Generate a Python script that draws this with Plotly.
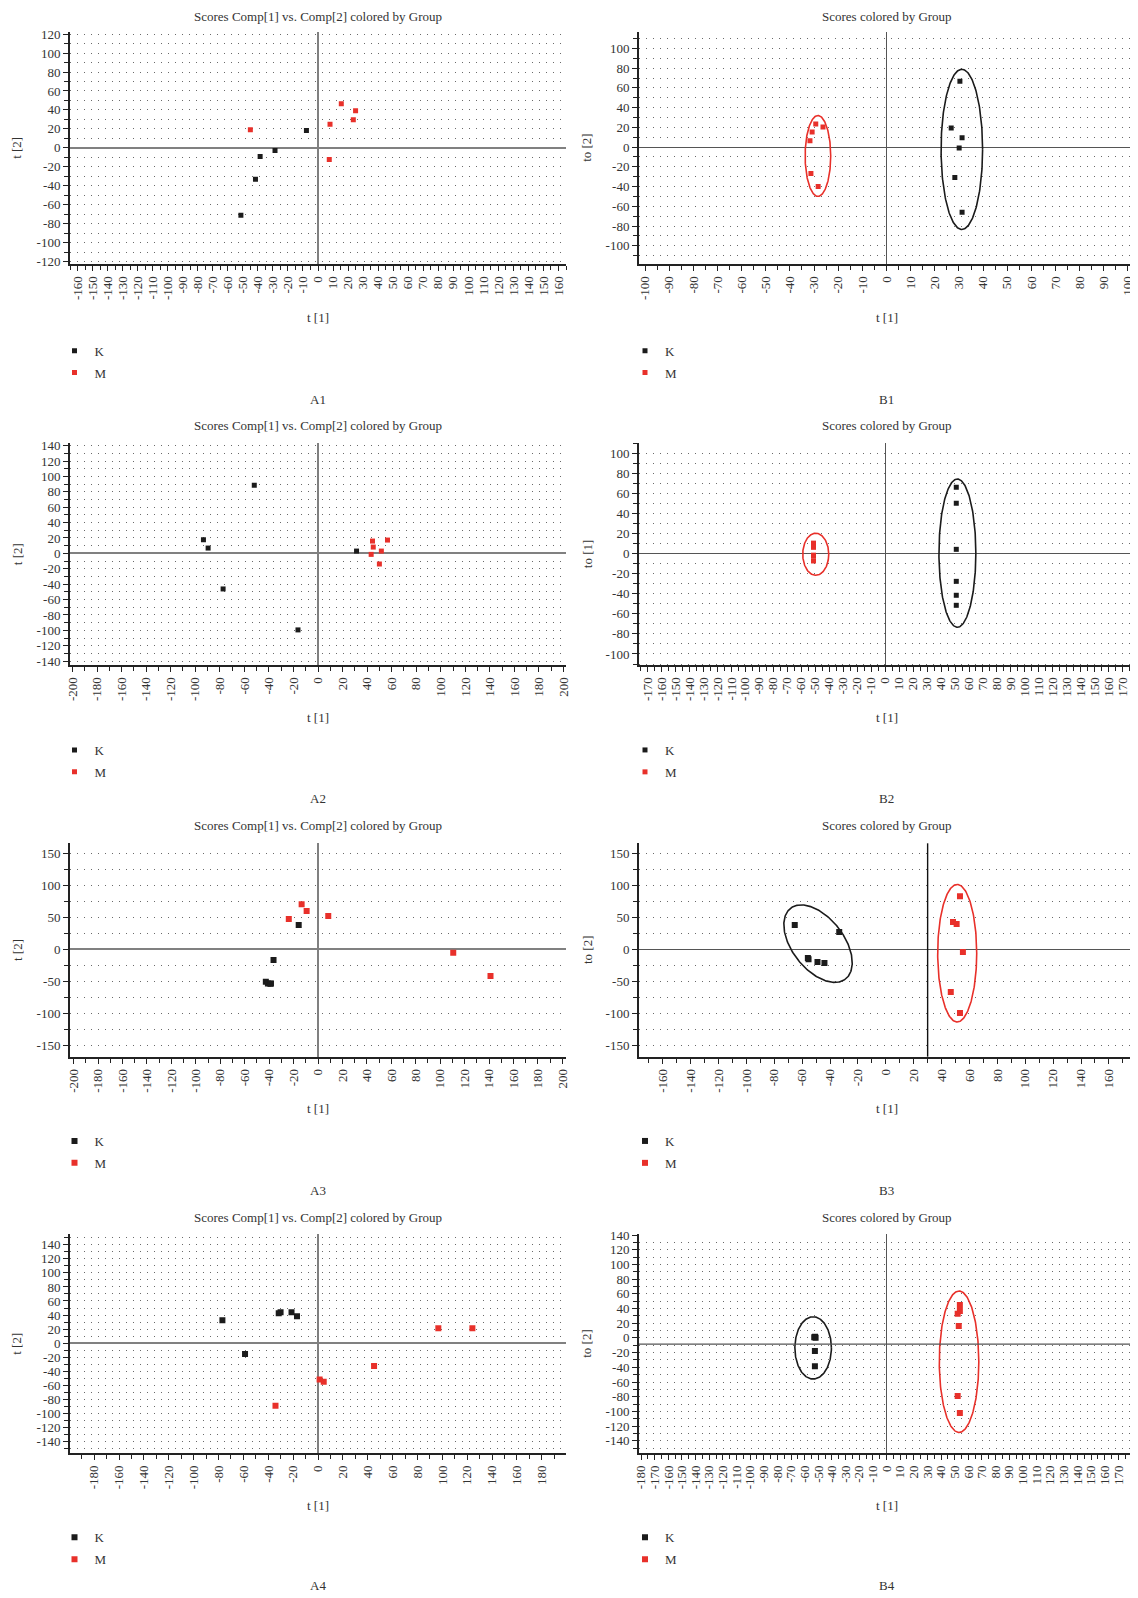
import numpy as np
import plotly.graph_objects as go

PAGE_W, PAGE_H = 1138, 1598
OFF = 8  # browser body margin
FW, FH = PAGE_W - OFF, PAGE_H - OFF

# ---------------- data ----------------
GROUPS = ["K", "M"]
TITLE_A = "Scores Comp[1] vs. Comp[2] colored by Group"
TITLE_B = "Scores colored by Group"
PANEL_LABELS = ["A1", "B1", "A2", "B2", "A3", "B3", "A4", "B4"]
X_TITLES = ["t [1]"] * 8
Y_TITLES = ["t [2]", "to [2]", "t [2]", "to [1]", "t [2]", "to [2]", "t [2]", "to [2]"]

A1_K_X = [-7.7, -28.6, -38.5, -41.6, -51.3]
A1_K_Y = [18.2, -2.8, -9.0, -33.0, -71.0]
A1_M_X = [-45.0, 15.5, 25.0, 23.5, 8.0, 7.5]
A1_M_Y = [19.2, 46.5, 39.0, 29.7, 25.0, -12.2]

B1_K_X = [30.4, 26.8, 31.3, 30.1, 28.3, 31.3]
B1_K_Y = [66.8, 19.5, 9.4, -1.0, -30.9, -66.0]
B1_M_X = [-29.3, -26.3, -30.8, -31.7, -31.3, -28.3]
B1_M_Y = [23.5, 20.5, 15.4, 6.4, -26.8, -40.0]
B1_K_ELL_C = [31.2, -2.3]
B1_K_ELL_AX = [[8.6, 0.0], [0.0, 81.2]]
B1_M_ELL_C = [-28.4, -9.0]
B1_M_ELL_AX = [[5.3, 0.0], [0.0, 41.0]]

A2_K_X = [-51.9, -93.3, -89.5, -77.3, -16.3, 31.4]
A2_K_Y = [88.6, 17.7, 6.9, -46.2, -99.4, 3.0]
A2_M_X = [44.4, 56.6, 45.0, 51.6, 43.3, 50.0]
A2_M_Y = [16.0, 17.3, 8.2, 3.0, -1.3, -13.8]

B2_K_X = [50.9, 50.9, 50.9, 50.9, 50.9, 50.9]
B2_K_Y = [66.1, 50.2, 4.3, -27.6, -41.5, -51.5]
B2_M_X = [-51.2, -51.2, -51.2, -51.2, -51.2, -51.2]
B2_M_Y = [10.5, 9.0, 6.3, -1.5, -2.5, -7.3]
B2_K_ELL_C = [51.7, 0.5]
B2_K_ELL_AX = [[13.2, 0.0], [0.0, 73.9]]
B2_M_ELL_C = [-49.6, -0.6]
B2_M_ELL_AX = [[9.3, 0.0], [0.0, 21.0]]

A3_K_X = [-15.8, -36.4, -42.7, -41.0, -39.0, -38.5]
A3_K_Y = [38.0, -16.7, -50.5, -53.5, -54.0, -53.3]
A3_M_X = [-13.4, -9.3, -23.9, 8.4, 110.7, 141.2]
A3_M_Y = [70.8, 59.9, 47.4, 52.1, -5.2, -41.7]

B3_K_X = [-65.3, -33.4, -55.9, -55.4, -49.0, -44.0]
B3_K_Y = [38.0, 27.1, -13.5, -15.6, -19.8, -21.4]
B3_M_X = [53.2, 48.2, 50.8, 55.3, 46.6, 53.2]
B3_M_Y = [83.3, 42.7, 39.6, -4.2, -66.7, -99.5]
B3_K_ELL_C = [-48.6, 8.9]
B3_K_ELL_AX = [[18.6, -57.0], [-16.0, -20.7]]
B3_M_ELL_C = [51.2, -6.0]
B3_M_ELL_AX = [[14.0, 0.0], [0.0, 107.6]]
B3_VLINE_X = 30.0

A4_K_X = [-76.9, -58.7, -31.6, -30.1, -21.3, -16.9]
A4_K_Y = [32.5, -15.6, 42.4, 43.8, 43.8, 38.2]
A4_M_X = [-34.2, 1.3, 4.6, 45.1, 96.8, 124.2]
A4_M_Y = [-89.1, -51.8, -55.1, -32.5, 21.2, 21.2]

B4_K_X = [-52.4, -52.0, -53.0, -52.5, -52.5]
B4_K_Y = [1.6, 0.3, 1.0, -17.9, -38.4]
B4_M_X = [53.8, 53.8, 52.2, 53.0, 52.2, 53.8]
B4_M_Y = [44.7, 36.5, 32.9, 16.1, -79.2, -102.3]
B4_K_ELL_C = [-53.8, -13.6]
B4_K_ELL_AX = [[13.4, 0.0], [0.0, 42.4]]
B4_M_ELL_C = [53.2, -32.4]
B4_M_ELL_AX = [[14.5, 0.0], [0.0, 96.2]]
B4_HLINE_Y = -8.4

# axis ranges / ticks: [min, max, major step, minor step]
A1_XAX = [-165, 165, 10, 5];   A1_YAX = [-122.5, 122.5, 20, 10]
B1_XAX = [-102.5, 102.5, 10, 5]; B1_YAX = [-118.5, 117, 20, 10]
A2_XAX = [-202, 202, 20, 10];  A2_YAX = [-145, 143, 20, 10]
B2_XAX = [-176, 178, 10, 5];   B2_YAX = [-111, 110, 20, 10]
A3_XAX = [-203, 203, 20, 10];  A3_YAX = [-168, 166, 50, 25]
B3_XAX = [-177, 178, 20, 10];  B3_YAX = [-168, 166, 50, 25]
A4_XAX = [-199.5, 199.5, 20, 10]; A4_YAX = [-157, 155, 20, 10]
B4_XAX = [-181.5, 181.5, 10, 5]; B4_YAX = [-157, 141, 20, 10]

# ---------------- styling / layout (page pixel positions) ----------------
BLACK = "#1b1b1b"
RED = "#e8302a"
TXT = "#333333"
FONT = "Liberation Serif"
GRID = "#6a6a6a"

COL_X = [(70, 566), (639, 1134)]
ROW_Y = [(31.7, 264.0), (443.3, 665.0), (843.3, 1056.7), (1234.3, 1453.3)]
TITLE_Y = [17, 425, 825.7, 1217.7]
XTITLE_Y = [317, 717, 1108.5, 1505]
LABEL_Y = [399, 798.7, 1190, 1585]
LEG_K_Y = [350.7, 750, 1141, 1537.4]
LEG_SYM_X = [73.5, 644]
YTITLE_X = [17, 587]

PANELS = [
    dict(kx=A1_K_X, ky=A1_K_Y, mx=A1_M_X, my=A1_M_Y, xax=A1_XAX, yax=A1_YAX, ell=[], ms=5),
    dict(kx=B1_K_X, ky=B1_K_Y, mx=B1_M_X, my=B1_M_Y, xax=B1_XAX, yax=B1_YAX,
         ell=[(B1_K_ELL_C, B1_K_ELL_AX, BLACK), (B1_M_ELL_C, B1_M_ELL_AX, RED)], ms=5),
    dict(kx=A2_K_X, ky=A2_K_Y, mx=A2_M_X, my=A2_M_Y, xax=A2_XAX, yax=A2_YAX, ell=[], ms=5),
    dict(kx=B2_K_X, ky=B2_K_Y, mx=B2_M_X, my=B2_M_Y, xax=B2_XAX, yax=B2_YAX,
         ell=[(B2_K_ELL_C, B2_K_ELL_AX, BLACK), (B2_M_ELL_C, B2_M_ELL_AX, RED)], ms=5),
    dict(kx=A3_K_X, ky=A3_K_Y, mx=A3_M_X, my=A3_M_Y, xax=A3_XAX, yax=A3_YAX, ell=[], ms=6),
    dict(kx=B3_K_X, ky=B3_K_Y, mx=B3_M_X, my=B3_M_Y, xax=B3_XAX, yax=B3_YAX,
         ell=[(B3_K_ELL_C, B3_K_ELL_AX, BLACK), (B3_M_ELL_C, B3_M_ELL_AX, RED)], ms=6),
    dict(kx=A4_K_X, ky=A4_K_Y, mx=A4_M_X, my=A4_M_Y, xax=A4_XAX, yax=A4_YAX, ell=[], ms=6),
    dict(kx=B4_K_X, ky=B4_K_Y, mx=B4_M_X, my=B4_M_Y, xax=B4_XAX, yax=B4_YAX,
         ell=[(B4_K_ELL_C, B4_K_ELL_AX, BLACK), (B4_M_ELL_C, B4_M_ELL_AX, RED)], ms=6),
]


def ellipse_xy(center, axes, n=240):
    t = np.linspace(0, 2 * np.pi, n)
    (ux, uy), (vx, vy) = axes
    return (center[0] + ux * np.cos(t) + vx * np.sin(t),
            center[1] + uy * np.cos(t) + vy * np.sin(t))


def tick_values(lo, hi, step):
    start = int(np.ceil(lo / step))
    stop = int(np.floor(hi / step))
    vals = [k * step for k in range(start, stop + 1)]
    return vals, [str(int(v)) for v in vals]


def px(x):
    return (x - OFF) / FW


def py(y):
    return 1 - (y - OFF) / FH


fig = go.Figure()
layout = dict(
    template="none",
    width=FW, height=FH, margin=dict(l=0, r=0, t=0, b=0, pad=0, autoexpand=False),
    paper_bgcolor="white", plot_bgcolor="white",
    font=dict(family=FONT, size=13, color=TXT),
    showlegend=True, hovermode="closest",
)
annotations = []
shapes = []

for i, p in enumerate(PANELS):
    n = i + 1
    row, col = i // 2, i % 2
    xs = "" if n == 1 else str(n)
    xref, yref = "x" + xs, "y" + xs
    legname = "legend" + ("" if n == 1 else str(n))
    x0, x1 = COL_X[col]
    y0, y1 = ROW_Y[row]

    for ell_c, ell_ax, color in p["ell"]:
        ex, ey = ellipse_xy(ell_c, ell_ax)
        fig.add_trace(go.Scatter(x=ex, y=ey, mode="lines", xaxis=xref, yaxis=yref,
                                 line=dict(color=color, width=1.6), showlegend=False,
                                 hoverinfo="skip"))
    for g, gx, gy, color in (("K", p["kx"], p["ky"], BLACK), ("M", p["mx"], p["my"], RED)):
        fig.add_trace(go.Scatter(x=gx, y=gy, mode="markers", name=g, xaxis=xref, yaxis=yref,
                                 marker=dict(symbol="square", size=p["ms"], color=color,
                                             line=dict(width=0)),
                                 legend=legname, legendgroup=f"{g}{n}"))

    xmin, xmax, xd, xmd = p["xax"]
    ymin, ymax, yd, ymd = p["yax"]
    xv, xt = tick_values(xmin, xmax, xd)
    yv, yt = tick_values(ymin, ymax, yd)
    is_b = col == 1
    zcol = "#555555" if is_b else "#808080"
    zw = 1.4 if is_b else 1.8
    xzero = not (n == 6)
    yzero = not (n == 8)
    axis_common = dict(showline=True, linecolor="#222222", linewidth=2, mirror=False,
                       ticks="outside", ticklen=5, tickwidth=1.3, tickcolor="#222222",
                       tickmode="array", automargin=False,
                       tickfont=dict(family=FONT, size=13, color=TXT), fixedrange=True)
    layout["xaxis" + xs] = dict(
        axis_common, domain=[px(x0), px(x1)], range=[xmin, xmax],
        tickvals=xv, ticktext=xt,
        anchor=yref, tickangle=-90, showgrid=False, zeroline=xzero,
        zerolinecolor=zcol, zerolinewidth=zw,
        minor=dict(tickmode="linear", dtick=xmd, tick0=0, ticks="outside", ticklen=4,
                   tickcolor="#222222", tickwidth=1.2, showgrid=False),
    )
    layout["yaxis" + xs] = dict(
        axis_common, domain=[py(y1), py(y0)], range=[ymin, ymax],
        tickvals=yv, ticktext=yt,
        anchor=xref, showgrid=True, gridcolor=GRID, gridwidth=1, griddash="1px,6px",
        zeroline=yzero, zerolinecolor=zcol, zerolinewidth=zw,
        minor=dict(tickmode="linear", dtick=ymd, tick0=0, ticks="outside", ticklen=4,
                   tickcolor="#222222", tickwidth=1.2, showgrid=True, gridcolor=GRID,
                   gridwidth=1, griddash="1px,6px"),
    )

    if n == 6:
        shapes.append(dict(type="line", xref=xref, yref=yref + " domain", x0=B3_VLINE_X,
                           x1=B3_VLINE_X, y0=0, y1=1, line=dict(color="#111111", width=1.4)))
    if n == 8:
        shapes.append(dict(type="line", xref=xref + " domain", yref=yref, x0=0, x1=1,
                           y0=B4_HLINE_Y, y1=B4_HLINE_Y, line=dict(color="#555555", width=1.4)))

    cx = (x0 + x1) / 2
    annotations.append(dict(text=TITLE_B if is_b else TITLE_A, x=px(cx), y=py(TITLE_Y[row]),
                            xref="paper", yref="paper", showarrow=False,
                            font=dict(size=13, color=TXT), xanchor="center", yanchor="middle"))
    annotations.append(dict(text=X_TITLES[i], x=px(cx), y=py(XTITLE_Y[row]),
                            xref="paper", yref="paper", showarrow=False,
                            font=dict(size=13, color=TXT), xanchor="center", yanchor="middle"))
    annotations.append(dict(text=Y_TITLES[i], x=px(YTITLE_X[col]), y=py((y0 + y1) / 2),
                            xref="paper", yref="paper", showarrow=False, textangle=-90,
                            font=dict(size=13, color=TXT), xanchor="center", yanchor="middle"))
    annotations.append(dict(text=PANEL_LABELS[i], x=px(cx), y=py(LABEL_Y[row]),
                            xref="paper", yref="paper", showarrow=False,
                            font=dict(size=13, color=TXT), xanchor="center", yanchor="middle"))

    layout[legname] = dict(
        x=px(LEG_SYM_X[col] - 19), y=py(LEG_K_Y[row] - 15), xanchor="left", yanchor="top",
        bgcolor="rgba(0,0,0,0)", font=dict(family=FONT, size=13, color=TXT),
        tracegroupgap=2, itemwidth=30, orientation="v", itemclick=False,
    )

layout["annotations"] = annotations
layout["shapes"] = shapes
fig.update_layout(**layout)
fig.write_html("out.html")
